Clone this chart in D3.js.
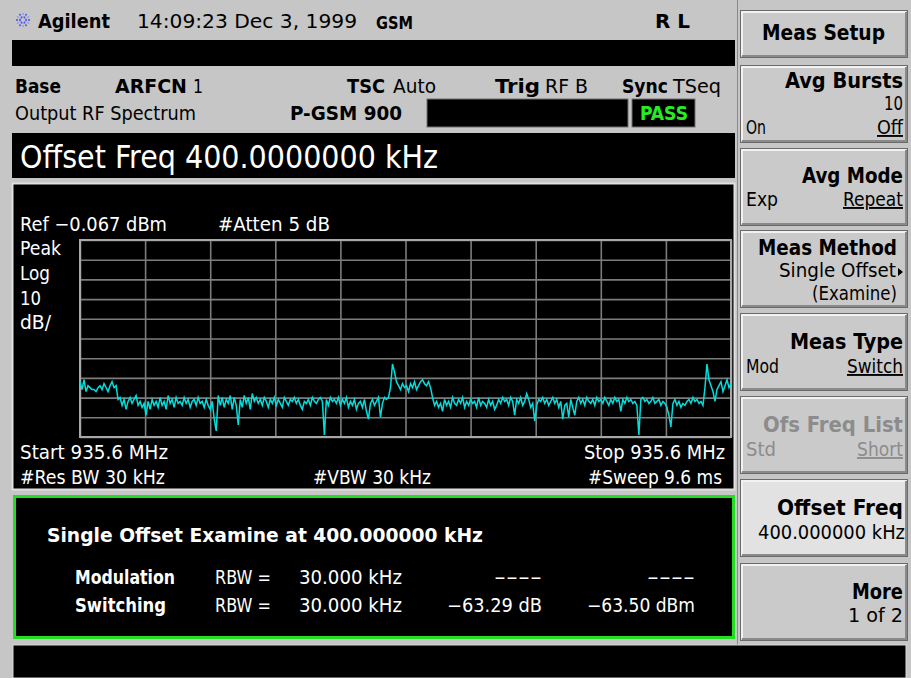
<!DOCTYPE html>
<html>
<head>
<script src="https://cdn.jsdelivr.net/npm/d3@7"></script>
<style>
  body { margin: 0; background: #c6c6c6; }
  text { font-family: "Liberation Sans Narrow", "DejaVu Sans Condensed", "Arial Narrow", sans-serif; }
</style>
</head>
<body>
<script>
// sweep settings
var sweepTime = 9.6,        // ms, zero span
    refLevel = -0.067,      // dBm
    dbPerDiv = 10,
    divisions = 10;

// trace, dBm left to right
var trace = [
  -72, -76, -71, -77, -74, -75, -76, -76, -77, -75,
  -74, -76, -73, -75, -77, -74, -72, -75, -74, -81,
  -80, -84, -81, -86, -82, -80, -83, -81, -79, -84,
  -82, -85, -83, -89, -82, -86, -81, -84, -82, -85,
  -80, -84, -82, -86, -79, -83, -81, -85, -80, -83,
  -82, -84, -80, -83, -81, -85, -82, -81, -84, -80,
  -83, -82, -85, -81, -84, -86, -82, -91, -97, -79,
  -84, -80, -85, -81, -83, -79, -86, -80, -84, -94,
  -81, -85, -79, -83, -80, -86, -78, -82, -80, -83,
  -81, -84, -80, -82, -85, -81, -83, -80, -84, -81,
  -83, -85, -80, -82, -84, -81, -82, -80, -83, -81,
  -84, -86, -82, -83, -81, -84, -80, -82, -83, -81,
  -80, -82, -99, -81, -84, -80, -82, -81, -83, -80,
  -84, -81, -83, -80, -85, -82, -84, -81, -86, -83,
  -82, -85, -81, -87, -91, -83, -81, -84, -82, -80,
  -90, -83, -80, -81, -80, -75, -63, -67, -72, -74,
  -76, -73, -75, -74, -77, -73, -75, -72, -76, -74,
  -72, -71, -73, -74, -72, -75, -80, -84, -82, -85,
  -83, -87, -81, -84, -82, -85, -80, -83, -84, -81,
  -83, -80, -85, -82, -84, -81, -83, -82, -85, -80,
  -84, -82, -83, -85, -81, -84, -82, -86, -84, -81,
  -83, -80, -82, -81, -84, -80, -82, -89, -81, -83,
  -80, -84, -82, -78, -81, -85, -83, -92, -84, -81,
  -82, -80, -83, -81, -84, -82, -80, -83, -81, -85,
  -82, -91, -84, -83, -90, -81, -85, -89, -82, -80,
  -83, -81, -84, -80, -82, -83, -81, -84, -80, -82,
  -81, -83, -80, -82, -84, -81, -83, -80, -82, -81,
  -87, -81, -83, -80, -82, -81, -83, -82, -84, -99,
  -81, -80, -82, -81, -83, -82, -80, -83, -82, -81,
  -84, -82, -83, -85, -89, -95, -83, -81, -84, -82,
  -85, -83, -84, -82, -81, -83, -80, -82, -81, -83,
  -82, -84, -75, -63, -71, -74, -77, -82, -76, -74,
  -72, -77, -74, -71, -75, -73
];

var softkeyTitles = ["Meas Setup", "Avg Bursts", "Avg Mode", "Meas Method", "Meas Type", "Ofs Freq List", "Offset Freq", "More"];
var softkeyTop = [10, 65, 148, 230, 313, 396, 479, 563];

var width = 911,
    height = 678;

var svg = d3.select("body").append("svg")
  .attr("width", width)
  .attr("height", height);

function label(x, y, str, size, opts) {
  opts = opts || {};
  var t = svg.append("text")
    .attr("x", x)
    .attr("y", y)
    .attr("font-size", size)
    .attr("font-weight", opts.bold ? "bold" : "normal")
    .attr("fill", opts.fill || "#000")
    .attr("text-anchor", opts.anchor || "start")
    .text(str);
  if (opts.len) t.attr("textLength", opts.len).attr("lengthAdjust", "spacingAndGlyphs");
  if (opts.underline) t.attr("text-decoration", "underline");
  return t;
}

function box(x, y, w, h, fill, stroke, sw) {
  return svg.append("rect")
    .attr("x", x).attr("y", y)
    .attr("width", w).attr("height", h)
    .attr("fill", fill)
    .attr("stroke", stroke || "none")
    .attr("stroke-width", sw || 0);
}

// page background
box(0, 0, width, height, "#c6c6c6");
svg.append("line").attr("x1", 737.5).attr("x2", 737.5).attr("y1", 0).attr("y2", 645)
  .attr("stroke", "#8a8a8a").attr("stroke-width", 1);

// ---- header ----
var logo = svg.append("g").attr("transform", "translate(23,20)");
d3.range(12).forEach(function(i) {
  var a = i * Math.PI / 6;
  logo.append("line")
    .attr("x1", Math.cos(a) * 2).attr("y1", Math.sin(a) * 2)
    .attr("x2", Math.cos(a) * 8).attr("y2", Math.sin(a) * 8)
    .attr("stroke", i % 2 ? "#9090ff" : "#4050e0")
    .attr("stroke-width", 1.3)
    .attr("stroke-dasharray", "2,1");
});
label(38, 28, "Agilent", 19, {bold: true, len: 72});
label(137, 28, "14:09:23  Dec 3, 1999", 20, {len: 220});
label(376, 29, "GSM", 18, {bold: true, len: 37});
label(655, 28, "R L", 20, {bold: true, len: 35});

box(12, 40, 723, 26, "#000");

label(15, 93, "Base", 19, {bold: true, len: 46});
label(115, 93, "ARFCN", 19, {bold: true, len: 72});
label(193, 93, "1", 19, {len: 10});
label(347, 93, "TSC", 19, {bold: true, len: 38});
label(393, 93, "Auto", 19, {len: 43});
label(495, 93, "Trig", 19, {bold: true, len: 45});
label(545, 93, "RF B", 19, {len: 43});
label(622, 93, "Sync", 19, {bold: true, len: 46});
label(673, 93, "TSeq", 19, {len: 48});

label(15, 120, "Output RF Spectrum", 19, {len: 181});
label(290, 120, "P-GSM 900", 19, {bold: true, len: 112});
box(427, 99, 201, 28, "#000", "#707070", 1);
box(632, 99, 63, 28, "#000", "#707070", 1);
label(640, 120, "PASS", 19, {bold: true, fill: "#22ee22", len: 48});

box(12, 133, 723, 45, "#000");
label(20, 168, "Offset Freq 400.0000000 kHz", 32, {fill: "#fff", len: 418});

// ---- trace window ----
box(12.5, 183.5, 722, 306, "#000", "#e0e0e0", 2);

var plotLeft = 80, plotRight = 731, plotTop = 240, plotBottom = 437;

var x = d3.scaleLinear()
  .domain([0, sweepTime])
  .range([plotLeft, plotRight]);

var y = d3.scaleLinear()
  .domain([refLevel - dbPerDiv * divisions, refLevel])
  .range([plotBottom, plotTop]);

var xGrid = d3.axisBottom(x)
  .tickValues(d3.range(divisions + 1).map(function(i) { return i * sweepTime / divisions; }))
  .tickSize(-(plotBottom - plotTop))
  .tickFormat("");

var yGrid = d3.axisLeft(y)
  .tickValues(d3.range(divisions + 1).map(function(i) { return refLevel - i * dbPerDiv; }))
  .tickSize(-(plotRight - plotLeft))
  .tickFormat("");

svg.append("g")
  .attr("transform", "translate(0," + plotBottom + ")")
  .call(xGrid)
  .call(function(g) { g.select(".domain").remove(); })
  .selectAll("line").attr("stroke", "#7c7c7c").attr("stroke-width", 1.6);

svg.append("g")
  .attr("transform", "translate(" + plotLeft + ",0)")
  .call(yGrid)
  .call(function(g) { g.select(".domain").remove(); })
  .selectAll("line").attr("stroke", "#7c7c7c").attr("stroke-width", 1.6);

svg.append("rect")
  .attr("x", plotLeft).attr("y", plotTop)
  .attr("width", plotRight - plotLeft).attr("height", plotBottom - plotTop)
  .attr("fill", "none").attr("stroke", "#a8a8a8").attr("stroke-width", 2);

var line = d3.line()
  .x(function(d, i) { return x(i * sweepTime / (trace.length - 1)); })
  .y(function(d) { return y(d); });

svg.append("path")
  .datum(trace)
  .attr("d", line)
  .attr("fill", "none")
  .attr("stroke", "#00dede")
  .attr("stroke-width", 1.5);

label(20, 231, "Ref \u22120.067 dBm", 20, {fill: "#fff", len: 147});
label(218, 231, "#Atten 5 dB", 20, {fill: "#fff", len: 112});
label(20, 255, "Peak", 20, {fill: "#fff", len: 41});
label(20, 280, "Log", 20, {fill: "#fff", len: 30});
label(20, 305, "10", 20, {fill: "#fff", len: 21});
label(20, 329, "dB/", 20, {fill: "#fff", len: 31});

label(20, 459, "Start 935.6 MHz", 20, {fill: "#fff", len: 148});
label(725, 459, "Stop 935.6 MHz", 20, {fill: "#fff", anchor: "end", len: 141});
label(20, 484, "#Res BW 30 kHz", 20, {fill: "#fff", len: 145});
label(313, 484, "#VBW 30 kHz", 20, {fill: "#fff", len: 118});
label(722, 484, "#Sweep 9.6 ms", 20, {fill: "#fff", anchor: "end", len: 134});

// ---- results ----
box(14.5, 496.5, 719, 141, "#000", "#22dd22", 3);
label(47, 542, "Single Offset Examine at  400.000000 kHz", 19, {bold: true, fill: "#fff", len: 436});
label(75, 584, "Modulation", 19, {bold: true, fill: "#fff", len: 100});
label(215, 584, "RBW =", 19, {fill: "#fff", len: 56});
label(299, 584, "30.000 kHz", 19, {fill: "#fff", len: 103});
label(542, 584, "----", 19, {fill: "#fff", anchor: "end", len: 48});
label(695, 584, "----", 19, {fill: "#fff", anchor: "end", len: 48});
label(75, 612, "Switching", 19, {bold: true, fill: "#fff", len: 91});
label(215, 612, "RBW =", 19, {fill: "#fff", len: 56});
label(299, 612, "30.000 kHz", 19, {fill: "#fff", len: 103});
label(542, 612, "\u221263.29 dB", 19, {fill: "#fff", anchor: "end", len: 95});
label(695, 612, "\u221263.50 dBm", 19, {fill: "#fff", anchor: "end", len: 108});

box(13, 645, 893, 33, "#000", "#d8d8d8", 1);

// ---- softkeys ----
softkeyTop.forEach(function(top, i) {
  var h = i === 0 ? 47 : 77;
  var fill = i === 6 ? "#e2e2e2" : "#cacaca";
  box(740.5, top + 0.5, 167, h, fill, "#6a6a6a", 1);
  svg.append("path")
    .attr("d", "M742," + (top + h - 1) + "V" + (top + 2) + "H906")
    .attr("fill", "none").attr("stroke", "#f2f2f2").attr("stroke-width", 2);
  svg.append("path")
    .attr("d", "M742," + (top + h - 1) + "H906V" + (top + 2))
    .attr("fill", "none").attr("stroke", "#8a8a8a").attr("stroke-width", 2);
});

var dim = "#8c8c8c";
label(762, 40, softkeyTitles[0], 22, {bold: true, len: 123});
label(903, 88, softkeyTitles[1], 22, {bold: true, anchor: "end", len: 118});
label(903, 110, "10", 19, {anchor: "end", len: 19});
label(746, 134, "On", 19, {len: 20});
label(903, 134, "Off", 19, {anchor: "end", underline: true, len: 26});
label(903, 183, softkeyTitles[2], 22, {bold: true, anchor: "end", len: 101});
label(746, 206, "Exp", 19, {len: 32});
label(903, 206, "Repeat", 19, {anchor: "end", underline: true, len: 60});
label(897, 255, softkeyTitles[3], 22, {bold: true, anchor: "end", len: 139});
label(896, 277, "Single Offset", 19, {anchor: "end", len: 117});
svg.append("path").attr("d", "M898,268 L903,272 L898,276 Z").attr("fill", "#000");
label(897, 300, "(Examine)", 19, {anchor: "end", len: 85});
label(903, 349, softkeyTitles[4], 22, {bold: true, anchor: "end", len: 113});
label(746, 373, "Mod", 19, {len: 33});
label(903, 373, "Switch", 19, {anchor: "end", underline: true, len: 56});
label(903, 432, softkeyTitles[5], 22, {bold: true, anchor: "end", fill: dim, len: 140});
label(746, 456, "Std", 19, {fill: dim, len: 30});
label(903, 456, "Short", 19, {anchor: "end", fill: dim, underline: true, len: 46});
label(903, 515, softkeyTitles[6], 22, {bold: true, anchor: "end", len: 126});
label(905, 539, "400.000000 kHz", 19, {anchor: "end", len: 147});
label(903, 599, softkeyTitles[7], 22, {bold: true, anchor: "end", len: 51});
label(903, 622, "1 of 2", 19, {anchor: "end", len: 55});
</script>
</body>
</html>
